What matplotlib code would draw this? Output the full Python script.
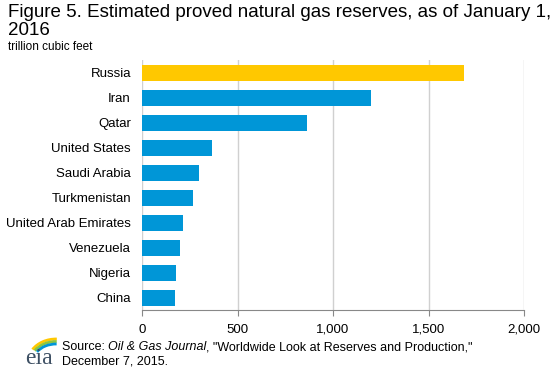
import matplotlib
matplotlib.use("Agg")
import matplotlib.pyplot as plt
from matplotlib.patches import Arc

plt.rcParams['font.family'] = ['Liberation Sans', 'DejaVu Sans']

countries = ['Russia', 'Iran', 'Qatar', 'United States', 'Saudi Arabia',
             'Turkmenistan', 'United Arab Emirates', 'Venezuela', 'Nigeria', 'China']
reserves = [1688, 1201, 866, 369, 300, 265, 215, 198, 180, 175]
xticks = [0, 500, 1000, 1500, 2000]
xtick_labels = ['0', '500', '1,000', '1,500', '2,000']

gold = '#FFC800'
blue = '#0096D7'
colors = [gold] + [blue] * (len(countries) - 1)

fig = plt.figure(figsize=(5.53, 3.71), dpi=100)
ax = fig.add_axes([142/553, 1 - 310/371, 382/553, 250/371])

ypos = list(range(len(countries)))
ax.barh(ypos, reserves, height=0.64, color=colors, zorder=3)
ax.set_ylim(len(countries) - 0.5, -0.5)
ax.set_xlim(0, 2000)
ax.set_yticks(ypos)
ax.set_yticklabels(countries, fontsize=9.5)
ax.set_xticks(xticks)
ax.set_xticklabels(xtick_labels, fontsize=9.5)
ax.tick_params(axis='y', length=0, pad=8)
ax.tick_params(axis='x', length=4, color='#888888', pad=6)
ax.grid(axis='x', color='#d0d0d0', linewidth=1, zorder=0)
for s in ['top', 'right', 'left']:
    ax.spines[s].set_visible(False)
ax.spines['bottom'].set_color('#888888')

fig.text(8/553, 1 - 4/371, 'Figure 5. Estimated proved natural gas reserves, as of January 1,\n2016',
         fontsize=13.5, va='top', ha='left', linespacing=1.08)
fig.text(8/553, 1 - 50/371, 'trillion cubic feet', fontsize=8.5, va='baseline', ha='left')

# source line with italic journal name
t1 = fig.text(62/553, 1 - 350/371, 'Source: ', fontsize=9, va='baseline')
t2 = ax.annotate('Oil & Gas Journal', xy=(1, 0), xycoords=t1, fontsize=9,
                 style='italic', va='bottom')
ax.annotate(', "Worldwide Look at Reserves and Production,"', xy=(1, 0),
            xycoords=t2, xytext=(-0.5, 0), textcoords='offset points',
            fontsize=9, va='bottom')
fig.text(62/553, 1 - 364/371, 'December 7, 2015.', fontsize=9, va='baseline')

# rough eia logo
fig.text(25/553, 1 - 364/371, 'eia', fontsize=17, family='Liberation Serif',
         color='#3d4f63', va='baseline')
for k, c in enumerate(['#FFC800', '#8DC63F', '#0096D7']):
    arc = Arc((56, 9), 56 - 5*k, 46 - 5*k, theta1=88, theta2=152,
              transform=None, color=c, linewidth=2)
    fig.add_artist(arc)

fig.savefig('out.png', dpi=100)
